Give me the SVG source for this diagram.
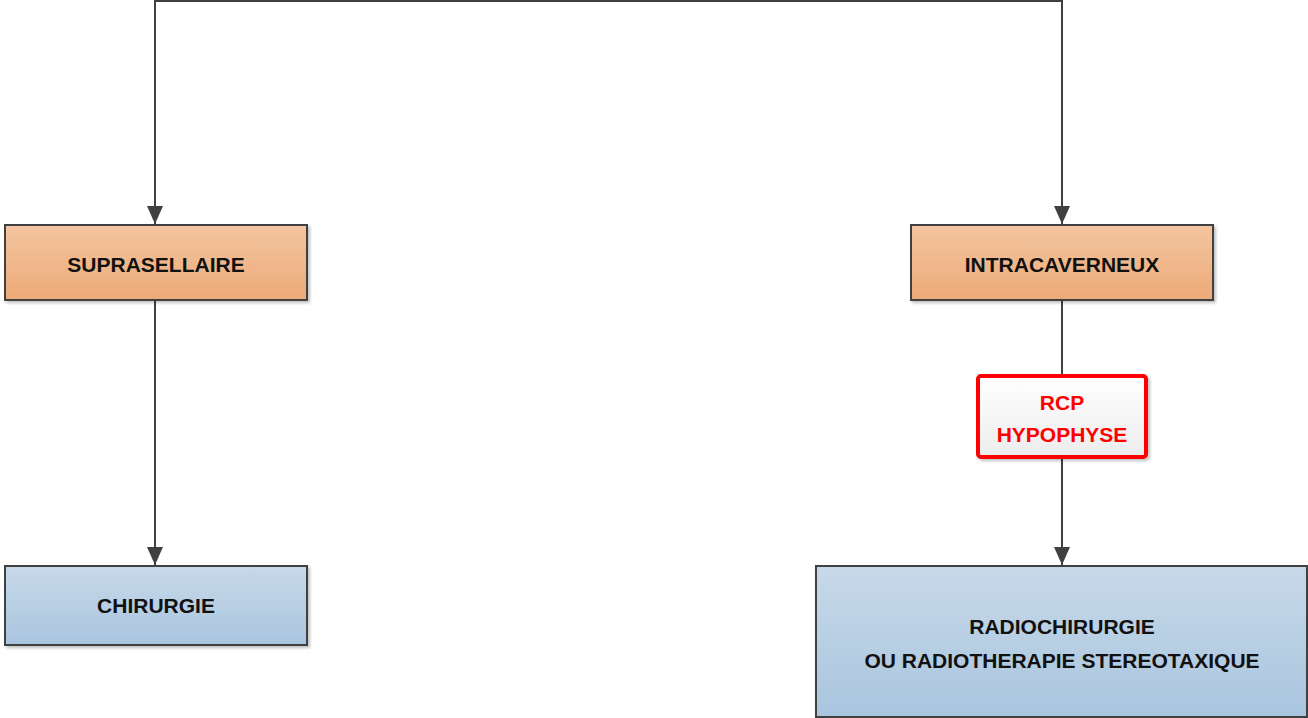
<svg xmlns="http://www.w3.org/2000/svg" width="1308" height="718" viewBox="0 0 1308 718">
<defs>
<linearGradient id="gO" x1="0" y1="0" x2="0" y2="1"><stop offset="0" stop-color="#F3C5A0"/><stop offset="1" stop-color="#EDAA78"/></linearGradient>
<linearGradient id="gB" x1="0" y1="0" x2="0" y2="1"><stop offset="0" stop-color="#C7D9E9"/><stop offset="1" stop-color="#A9C5DE"/></linearGradient>
<linearGradient id="gW" x1="0" y1="0" x2="0" y2="1"><stop offset="0" stop-color="#FFFFFF"/><stop offset="1" stop-color="#EDEDED"/></linearGradient>
<filter id="sh" x="-5%" y="-5%" width="112%" height="120%"><feDropShadow dx="2" dy="2" stdDeviation="1.5" flood-color="#000" flood-opacity="0.25"/></filter>
<marker id="arr" viewBox="0 0 18 16" markerWidth="18" markerHeight="16" refX="18" refY="8" orient="auto" markerUnits="userSpaceOnUse"><path d="M0,0 L18,8 L0,16 Z" fill="#404040"/></marker>
</defs>
<style>
.box{stroke:#404040;stroke-width:2;filter:url(#sh)}
.t{font-family:"Liberation Sans",Arial,sans-serif;font-weight:bold;font-size:21px;text-anchor:middle;fill:#111}
.r{fill:#FF0000}
.c{fill:none;stroke:#404040;stroke-width:2}
.a{marker-end:url(#arr)}
</style>
<g id="connectors">
<path class="c a" d="M608,1 L155,1 L155,224"/>
<path class="c a" d="M608,1 L1062,1 L1062,224"/>
<path class="c a" d="M155,300 L155,565"/>
<path class="c" d="M1062,300 L1062,375"/>
<path class="c a" d="M1062,458 L1062,565"/>
</g>
<g id="suprasellaire">
<rect class="box" x="5" y="225" width="302" height="75" fill="url(#gO)"/>
<text class="t" x="156" y="272">SUPRASELLAIRE</text>
</g>
<g id="intracaverneux">
<rect class="box" x="911" y="225" width="302" height="75" fill="url(#gO)"/>
<text class="t" x="1062" y="272">INTRACAVERNEUX</text>
</g>
<g id="rcp">
<rect x="978" y="376" width="168" height="81" rx="3" fill="url(#gW)" stroke="#FF0000" stroke-width="4" filter="url(#sh)"/>
<text class="t r" x="1062" y="410">RCP</text>
<text class="t r" x="1062" y="442">HYPOPHYSE</text>
</g>
<g id="chirurgie">
<rect class="box" x="5" y="566" width="302" height="79" fill="url(#gB)"/>
<text class="t" x="156" y="613">CHIRURGIE</text>
</g>
<g id="radio">
<rect class="box" x="816" y="566" width="491" height="151" fill="url(#gB)"/>
<text class="t" x="1062" y="634">RADIOCHIRURGIE</text>
<text class="t" x="1062" y="668">OU RADIOTHERAPIE STEREOTAXIQUE</text>
</g>
</svg>
